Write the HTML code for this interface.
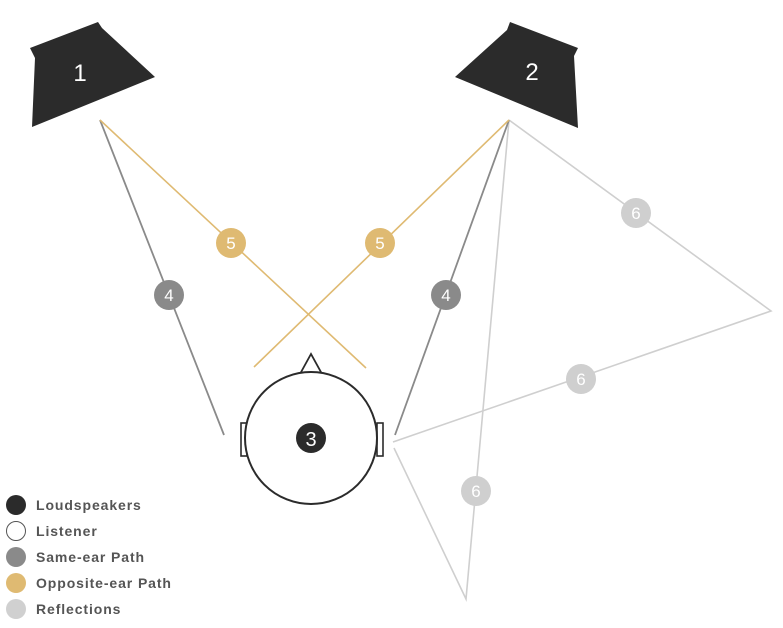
<!DOCTYPE html>
<html><head><meta charset="utf-8"><style>
html,body{margin:0;padding:0;background:#fff;}
svg{display:block;}
</style></head><body>
<svg width="783" height="628" viewBox="0 0 783 628" xmlns="http://www.w3.org/2000/svg" font-family="Liberation Sans, sans-serif">
<polygon points="30,48 98,22 102,28 155,77 32,127 35,58" fill="#2b2b2b"/>
<text x="80" y="81" font-size="24" fill="#fff" text-anchor="middle">1</text>
<polygon points="455,77 507,30 510,22 578,48 574,56 578,128" fill="#2b2b2b"/>
<text x="532" y="80" font-size="24" fill="#fff" text-anchor="middle">2</text>
<g stroke="#cfcfcf" stroke-width="1.6" fill="none">
<polyline points="509,120 771,311 393,442"/>
<polyline points="509,120 466,599 394,448"/>
</g>
<g stroke="#8a8a8a" stroke-width="1.8" fill="none">
<line x1="100" y1="120" x2="224" y2="435"/>
<line x1="509" y1="120" x2="395" y2="435"/>
</g>
<g stroke="#dfba72" stroke-width="1.6" fill="none">
<line x1="100" y1="120" x2="366" y2="368"/>
<line x1="509" y1="120" x2="254" y2="367"/>
</g>
<polygon points="300,374 311,354 322,374" fill="#fff" stroke="#2b2b2b" stroke-width="1.8"/>
<rect x="241" y="423" width="6" height="33" fill="#fff" stroke="#2b2b2b" stroke-width="1.6"/>
<rect x="377" y="423" width="6" height="33" fill="#fff" stroke="#2b2b2b" stroke-width="1.6"/>
<circle cx="311" cy="438" r="66" fill="#fff" stroke="#2b2b2b" stroke-width="2"/>
<circle cx="311" cy="438" r="15" fill="#2b2b2b"/>
<text x="311" y="446" font-size="20" fill="#fff" text-anchor="middle">3</text>
<g font-size="17" fill="#fff" text-anchor="middle">
<circle cx="231" cy="243" r="15" fill="#dfba72"/><text x="231" y="249">5</text>
<circle cx="380" cy="243" r="15" fill="#dfba72"/><text x="380" y="249">5</text>
<circle cx="169" cy="295" r="15" fill="#8a8a8a"/><text x="169" y="301">4</text>
<circle cx="446" cy="295" r="15" fill="#8a8a8a"/><text x="446" y="301">4</text>
<circle cx="636" cy="213" r="15" fill="#cfcfcf"/><text x="636" y="219">6</text>
<circle cx="581" cy="379" r="15" fill="#cfcfcf"/><text x="581" y="385">6</text>
<circle cx="476" cy="491" r="15" fill="#cfcfcf"/><text x="476" y="497">6</text>
</g>
<g font-size="14" font-weight="bold" fill="#555" letter-spacing="0.9">
<circle cx="16" cy="505" r="10" fill="#2b2b2b"/><text x="36" y="510">Loudspeakers</text>
<circle cx="16" cy="531" r="9.5" fill="#fff" stroke="#555" stroke-width="1"/><text x="36" y="536">Listener</text>
<circle cx="16" cy="557" r="10" fill="#8a8a8a"/><text x="36" y="562">Same-ear Path</text>
<circle cx="16" cy="583" r="10" fill="#dfba72"/><text x="36" y="588">Opposite-ear Path</text>
<circle cx="16" cy="609" r="10" fill="#d0d0d0"/><text x="36" y="614">Reflections</text>
</g>
</svg>
</body></html>
